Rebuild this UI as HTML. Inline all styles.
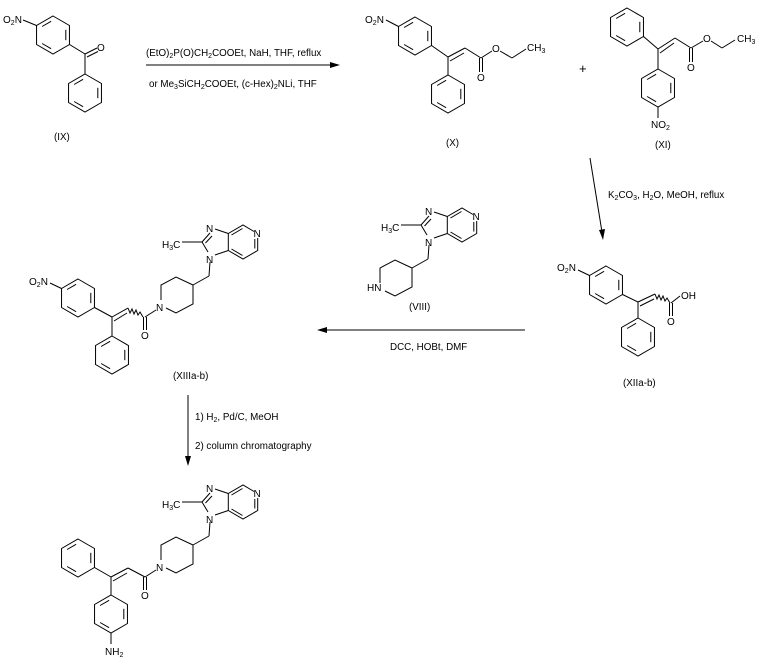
<!DOCTYPE html>
<html><head><meta charset="utf-8"><style>
html,body{margin:0;padding:0;background:#fff}
svg{display:block}
text{font-family:"Liberation Sans",Arial,sans-serif;font-size:9.8px;fill:#000}
.a{font-size:10px}
</style></head><body>
<svg width="760" height="665" viewBox="0 0 760 665" xmlns="http://www.w3.org/2000/svg">
<defs>
<g id="bz" fill="none" stroke="#000" stroke-width="1">
<polygon points="0,-19 16.45,-9.5 16.45,9.5 0,19 -16.45,9.5 -16.45,-9.5"/>
<line x1="12.8" y1="-5.2" x2="12.8" y2="5.2"/>
<line x1="-1.9" y1="13.7" x2="-10.9" y2="8.5"/>
<line x1="-10.9" y1="-8.5" x2="-1.9" y2="-13.7"/>
</g>
<g id="im">
<g fill="none" stroke="#000" stroke-width="1">
<polyline points="476.7,221 476.7,233.5 462,242 447.3,233.5 447.3,216.5 462,208 473,214.5"/>
<line x1="473.8" y1="222" x2="473.8" y2="231.5"/>
<line x1="461.5" y1="238.5" x2="450.5" y2="232"/>
<line x1="450.5" y1="218" x2="461.5" y2="211.5"/>
<line x1="447.3" y1="216.5" x2="434" y2="212"/>
<line x1="429" y1="216" x2="421" y2="225"/>
<line x1="431" y1="219" x2="424.5" y2="226"/>
<line x1="421" y1="225" x2="427" y2="235"/>
<line x1="447.3" y1="233.5" x2="434" y2="238"/>
<line x1="421" y1="225" x2="401" y2="225"/>
<line x1="429" y1="245" x2="428" y2="259"/>
<line x1="428" y1="259" x2="412" y2="268"/>
<polyline points="380,283 380,268 395,260 412,268"/>
<polyline points="385,291 395,296 412,287 412,268"/>
</g>
<text class="a" x="472.5" y="220">N</text>
<text class="a" x="425" y="215">N</text>
<text class="a" x="425" y="246">N</text>
<text class="a" x="381" y="231">H<tspan font-size="7" dy="2">3</tspan><tspan dy="-2">C</tspan></text>
</g>
</defs>

<!-- IX -->
<use href="#bz" x="53" y="35"/>
<use href="#bz" x="85" y="93"/>
<g fill="none" stroke="#000" stroke-width="1">
<line x1="23" y1="20" x2="36.5" y2="25.5"/>
<line x1="69.5" y1="44.5" x2="85" y2="54"/>
<line x1="85" y1="54" x2="85" y2="74"/>
<line x1="85" y1="54" x2="97" y2="48"/>
<line x1="87" y1="57" x2="98" y2="51.5"/>
</g>
<text class="a" x="3" y="23">O<tspan font-size="7" dy="2">2</tspan><tspan dy="-2">N</tspan></text>
<text class="a" x="97" y="51">O</text>
<text x="54" y="140">(IX)</text>

<!-- arrow 1 -->
<line x1="146" y1="65" x2="334" y2="65" stroke="#000"/>
<polygon points="340,65 330,62 330,68"/>
<text x="146" y="56">(EtO)<tspan font-size="7" dy="2">2</tspan><tspan dy="-2">P(O)CH</tspan><tspan font-size="7" dy="2">2</tspan><tspan dy="-2">COOEt, NaH, THF, reflux</tspan></text>
<text x="149" y="87">or  Me<tspan font-size="7" dy="2">3</tspan><tspan dy="-2">SiCH</tspan><tspan font-size="7" dy="2">2</tspan><tspan dy="-2">COOEt, (c-Hex)</tspan><tspan font-size="7" dy="2">2</tspan><tspan dy="-2">NLi, THF</tspan></text>

<!-- X -->
<use href="#bz" x="415" y="36"/>
<use href="#bz" x="448" y="94"/>
<g fill="none" stroke="#000" stroke-width="1">
<line x1="386" y1="20" x2="398.5" y2="26.5"/>
<line x1="431.5" y1="45.5" x2="448" y2="57"/>
<line x1="448" y1="57" x2="448" y2="75"/>
<line x1="448" y1="57" x2="465" y2="48"/>
<line x1="450" y1="61" x2="464" y2="53"/>
<line x1="465" y1="48" x2="481" y2="58"/>
<line x1="479.5" y1="58" x2="479.5" y2="72"/>
<line x1="482.5" y1="58" x2="482.5" y2="72"/>
<line x1="481" y1="58" x2="492" y2="51"/>
<line x1="500" y1="51" x2="512" y2="58"/>
<line x1="512" y1="58" x2="526" y2="49"/>
</g>
<text class="a" x="365" y="23">O<tspan font-size="7" dy="2">2</tspan><tspan dy="-2">N</tspan></text>
<text class="a" x="477" y="81">O</text>
<text class="a" x="492" y="52">O</text>
<text class="a" x="527" y="51">CH<tspan font-size="7" dy="2">3</tspan></text>
<text x="446" y="146">(X)</text>
<text style="font-size:13px" x="579" y="73">+</text>

<!-- XI -->
<use href="#bz" x="627" y="27"/>
<use href="#bz" x="658" y="88"/>
<g fill="none" stroke="#000" stroke-width="1">
<line x1="643.5" y1="36.5" x2="658" y2="49"/>
<line x1="658" y1="49" x2="658" y2="69"/>
<line x1="658" y1="49" x2="675" y2="38"/>
<line x1="660" y1="53" x2="674" y2="43"/>
<line x1="675" y1="38" x2="691" y2="48"/>
<line x1="689.5" y1="48" x2="689.5" y2="62"/>
<line x1="692.5" y1="48" x2="692.5" y2="62"/>
<line x1="691" y1="48" x2="703" y2="41"/>
<line x1="711" y1="41" x2="722" y2="48"/>
<line x1="722" y1="48" x2="735" y2="40"/>
<line x1="658" y1="107" x2="658" y2="118"/>
</g>
<text class="a" x="687" y="71">O</text>
<text class="a" x="703" y="42">O</text>
<text class="a" x="737" y="42">CH<tspan font-size="7" dy="2">3</tspan></text>
<text class="a" x="651" y="128">NO<tspan font-size="7" dy="2">2</tspan></text>
<text x="655" y="148">(XI)</text>

<!-- arrow down right -->
<line x1="590" y1="158" x2="602" y2="232" stroke="#000"/>
<polygon points="603,240 599,230 605,229"/>
<text x="608" y="198">K<tspan font-size="7" dy="2">2</tspan><tspan dy="-2">CO</tspan><tspan font-size="7" dy="2">3</tspan><tspan dy="-2">, H</tspan><tspan font-size="7" dy="2">2</tspan><tspan dy="-2">O, MeOH, reflux</tspan></text>

<!-- XIIa-b -->
<use href="#bz" x="606" y="285"/>
<use href="#bz" x="638" y="337"/>
<g fill="none" stroke="#000" stroke-width="1">
<line x1="578" y1="270" x2="589.5" y2="275.5"/>
<line x1="622.5" y1="294.5" x2="638" y2="302"/>
<line x1="638" y1="302" x2="638" y2="318"/>
<line x1="638" y1="302" x2="655" y2="294"/>
<line x1="640" y1="306" x2="654" y2="299"/>
<path d="M655,294 l2,5 l2,-4 l2,5 l2,-4 l2,5 l2,-3 l3,5"/>
<line x1="669.5" y1="303" x2="669.5" y2="316"/>
<line x1="672.5" y1="303" x2="672.5" y2="316"/>
<line x1="671" y1="303" x2="680" y2="296"/>
</g>
<text class="a" x="557" y="271">O<tspan font-size="7" dy="2">2</tspan><tspan dy="-2">N</tspan></text>
<text class="a" x="681" y="299">OH</text>
<text class="a" x="667" y="325">O</text>
<text x="623" y="386">(XIIa-b)</text>

<!-- VIII -->
<use href="#im"/>
<text class="a" x="367" y="291">HN</text>
<text x="409" y="310">(VIII)</text>

<!-- arrow left -->
<line x1="324" y1="330" x2="525" y2="330" stroke="#000"/>
<polygon points="317,330 327,327 327,333"/>
<text x="390" y="350">DCC, HOBt, DMF</text>

<!-- XIIIa-b -->
<use href="#im" transform="translate(-219,17)"/>
<use href="#bz" x="78" y="298"/>
<use href="#bz" x="112" y="355"/>
<g fill="none" stroke="#000" stroke-width="1">
<line x1="50" y1="283" x2="61.5" y2="288.5"/>
<line x1="94.5" y1="307.5" x2="112" y2="317"/>
<line x1="112" y1="317" x2="112" y2="336"/>
<line x1="112" y1="317" x2="128" y2="308"/>
<line x1="114" y1="321" x2="127" y2="313"/>
<path d="M128,308 l2,5 l2,-4 l2,5 l2,-4 l2,5 l2,-3 l3,5"/>
<line x1="143.5" y1="317" x2="143.5" y2="330"/>
<line x1="146.5" y1="317" x2="146.5" y2="330"/>
<line x1="145" y1="317" x2="156" y2="310"/>
</g>
<text class="a" x="29" y="285">O<tspan font-size="7" dy="2">2</tspan><tspan dy="-2">N</tspan></text>
<text class="a" x="156" y="311">N</text>
<text class="a" x="141" y="339">O</text>
<text x="173" y="379">(XIIIa-b)</text>

<!-- arrow down 2 -->
<line x1="188" y1="395" x2="188" y2="458" stroke="#000"/>
<polygon points="188,466 185,456 191,456"/>
<text x="195" y="420">1) H<tspan font-size="7" dy="2">2</tspan><tspan dy="-2">, Pd/C, MeOH</tspan></text>
<text x="195" y="449">2) column chromatography</text>

<!-- final -->
<use href="#im" transform="translate(-219,277)"/>
<use href="#bz" x="78" y="558"/>
<use href="#bz" x="111" y="614"/>
<g fill="none" stroke="#000" stroke-width="1">
<line x1="94.5" y1="567.5" x2="111" y2="577"/>
<line x1="111" y1="577" x2="111" y2="595"/>
<line x1="111" y1="577" x2="128" y2="568"/>
<line x1="113" y1="581" x2="127" y2="573"/>
<line x1="128" y1="568" x2="145" y2="577"/>
<line x1="143.5" y1="577" x2="143.5" y2="590"/>
<line x1="146.5" y1="577" x2="146.5" y2="590"/>
<line x1="145" y1="577" x2="156" y2="570"/>
<line x1="111" y1="633" x2="111" y2="644"/>
</g>
<text class="a" x="156" y="571">N</text>
<text class="a" x="141" y="599">O</text>
<text class="a" x="105" y="655">NH<tspan font-size="7" dy="2">2</tspan></text>
</svg>
</body></html>
